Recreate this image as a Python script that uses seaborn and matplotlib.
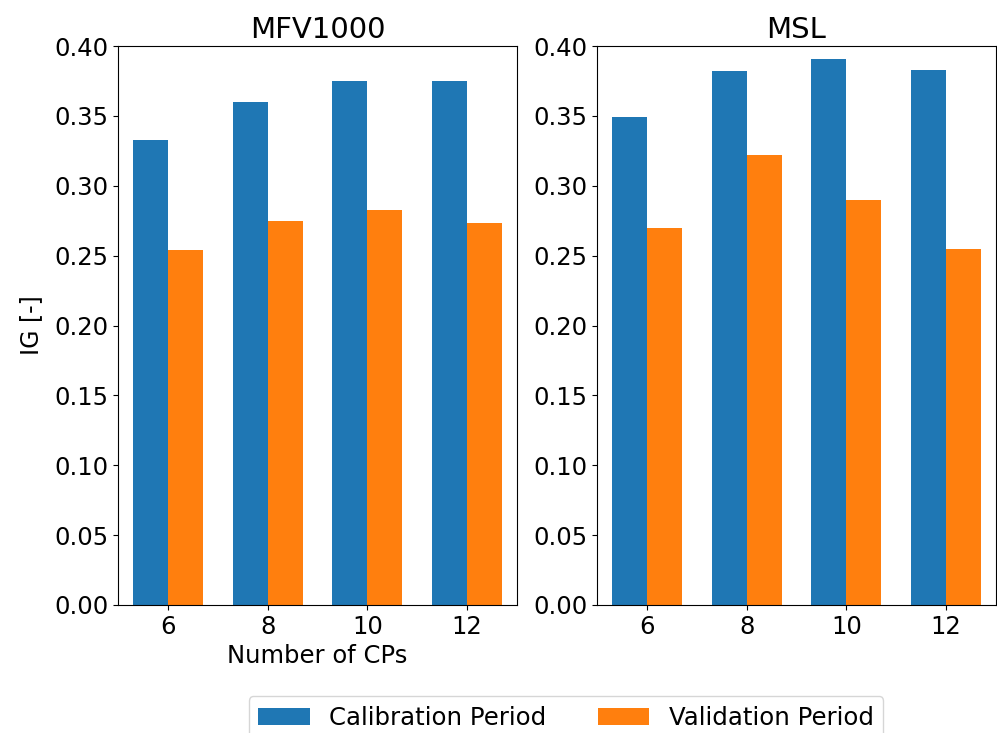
import matplotlib
matplotlib.use("Agg")
import matplotlib.pyplot as plt
import seaborn as sns
import pandas as pd
from matplotlib.patches import Patch

# ---- data ----
cps = [6, 8, 10, 12]
periods = ["Calibration Period", "Validation Period"]
panels = ["MFV1000", "MSL"]

mfv_calibration = [0.333, 0.360, 0.375, 0.375]
mfv_validation = [0.254, 0.275, 0.283, 0.273]
msl_calibration = [0.349, 0.382, 0.391, 0.383]
msl_validation = [0.270, 0.322, 0.290, 0.255]

colors = ["#1f77b4", "#ff7f0e"]


def long_frame(calib, valid):
    rows = []
    for c, v in zip(cps, calib):
        rows.append({"cps": c, "ig": v, "period": periods[0]})
    for c, v in zip(cps, valid):
        rows.append({"cps": c, "ig": v, "period": periods[1]})
    return pd.DataFrame(rows)


frames = {
    "MFV1000": long_frame(mfv_calibration, mfv_validation),
    "MSL": long_frame(msl_calibration, msl_validation),
}

fs = 17.5
fig = plt.figure(figsize=(9.97, 7.33), dpi=100)
ax_left = fig.add_axes([118 / 997, 1 - 605 / 733, 399 / 997, 559 / 733])
ax_right = fig.add_axes([597 / 997, 1 - 605 / 733, 399 / 997, 559 / 733])

for ax, name in zip([ax_left, ax_right], panels):
    sns.barplot(
        data=frames[name],
        x="cps",
        y="ig",
        hue="period",
        hue_order=periods,
        order=cps,
        palette=colors,
        saturation=1,
        width=0.7,
        linewidth=0,
        legend=False,
        ax=ax,
    )
    ax.set_ylim(0, 0.40)
    ax.set_yticks([i * 0.05 for i in range(9)])
    ax.set_yticklabels([f"{i * 0.05:.2f}" for i in range(9)])
    ax.tick_params(labelsize=fs)
    ax.set_title(name, fontsize=21)
    ax.set_xlabel("")
    ax.set_ylabel("")

ax_left.set_xlabel("Number of CPs", fontsize=fs)
ax_left.set_ylabel("IG [-]", fontsize=17, labelpad=8)

# ---- legend across the bottom ----
handles = [Patch(facecolor=c, label=p) for c, p in zip(colors, periods)]
fig.legend(
    handles=handles,
    loc="upper center",
    bbox_to_anchor=(566 / 997, 1 - 684 / 733),
    ncol=2,
    fontsize=17.6,
    frameon=True,
    columnspacing=2.1,
    handlelength=2.1,
)

fig.savefig("out.png", dpi=100)
plt.close(fig)
